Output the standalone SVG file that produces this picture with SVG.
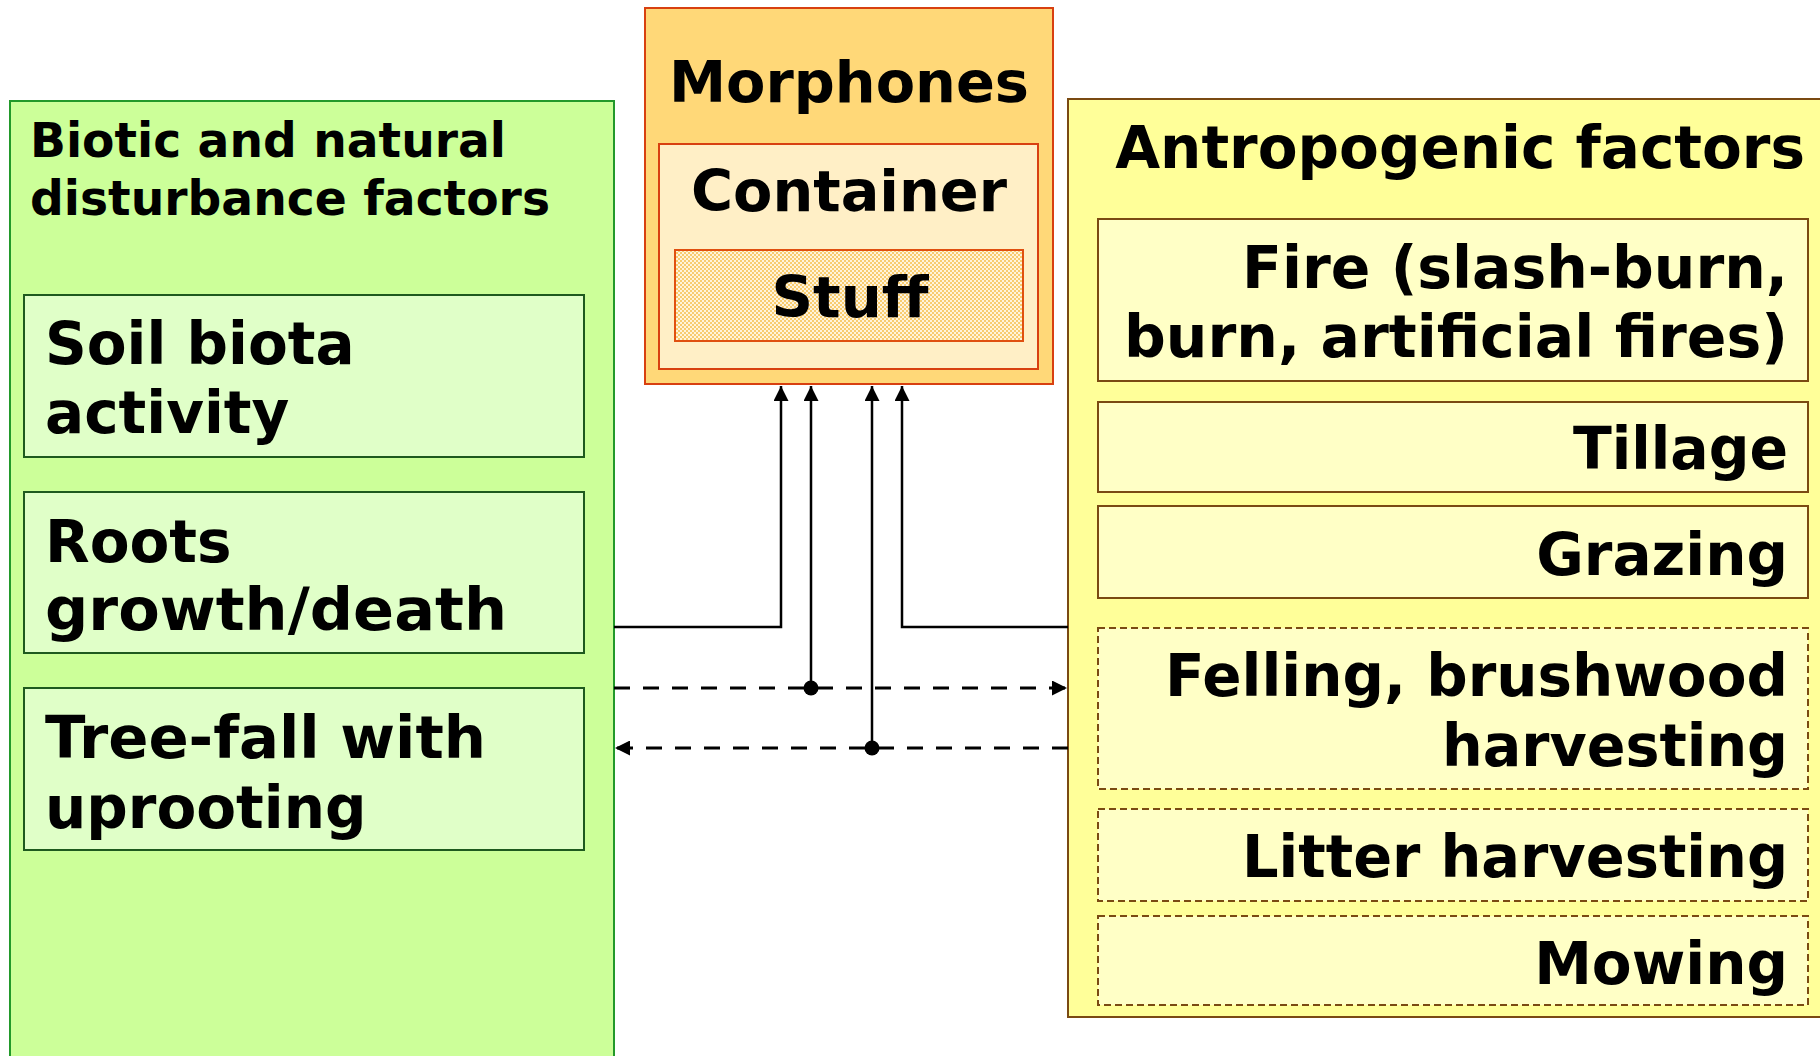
<svg xmlns="http://www.w3.org/2000/svg" width="1820" height="1056" viewBox="0 0 1820 1056">
<defs>
<pattern id="dots" width="4" height="4" patternUnits="userSpaceOnUse">
<rect width="4" height="4" fill="#FFF4DC"/>
<rect width="2" height="2" fill="#F8CC70"/>
<rect x="2" y="2" width="2" height="2" fill="#F8CC70"/>
</pattern>
<marker id="arr" viewBox="0 0 10 10" refX="10" refY="5" markerWidth="15" markerHeight="15" markerUnits="userSpaceOnUse" orient="auto">
<path d="M0,0 L10,5 L0,10 Z" fill="#000"/>
</marker>
</defs>
<style>
text{font-family:"DejaVu Sans","Verdana",sans-serif;font-weight:bold;fill:#000}
.t57{font-size:57px}
.t58{font-size:58px}
.t48{font-size:48px}
.gbox{fill:#E0FFC8;stroke:#1E5A1E;stroke-width:2}
.ybox{fill:#FFFFC6;stroke:#7A4A12;stroke-width:2}
.ydash{fill:#FFFFC6;stroke:#7A4A12;stroke-width:2;stroke-dasharray:7 4}
.ln{fill:none;stroke:#000;stroke-width:2.5}
.dl{fill:none;stroke:#000;stroke-width:3;stroke-dasharray:16 13}
</style>
<rect width="1820" height="1056" fill="#fff"/>

<g id="biotic">
<rect x="10" y="101" width="604" height="970" fill="#CCFF99" stroke="#22992A" stroke-width="2"/>
<text class="t48" x="30" y="157" textLength="476" lengthAdjust="spacingAndGlyphs">Biotic and natural</text>
<text class="t48" x="30" y="215" textLength="520" lengthAdjust="spacingAndGlyphs">disturbance factors</text>
</g>
<g id="soil-biota">
<rect class="gbox" x="24" y="295" width="560" height="162"/>
<text class="t58" x="45" y="364">Soil biota</text>
<text class="t58" x="45" y="433">activity</text>
</g>
<g id="roots">
<rect class="gbox" x="24" y="492" width="560" height="161"/>
<text class="t58" x="45" y="562">Roots</text>
<text class="t58" x="45" y="630" textLength="462" lengthAdjust="spacingAndGlyphs">growth/death</text>
</g>
<g id="tree-fall">
<rect class="gbox" x="24" y="688" width="560" height="162"/>
<text class="t58" x="45" y="758" textLength="441" lengthAdjust="spacingAndGlyphs">Tree-fall with</text>
<text class="t58" x="45" y="828">uprooting</text>
</g>

<g id="morphones">
<rect x="645" y="8" width="408" height="376" fill="#FFD878" stroke="#D84010" stroke-width="2"/>
<text class="t57" x="849" y="102" text-anchor="middle" textLength="360" lengthAdjust="spacingAndGlyphs">Morphones</text>
</g>
<g id="container">
<rect x="659" y="144" width="379" height="225" fill="#FFEFC6" stroke="#D84010" stroke-width="2"/>
<text class="t57" x="849" y="211" text-anchor="middle" textLength="316" lengthAdjust="spacingAndGlyphs">Container</text>
</g>
<g id="stuff">
<rect x="675" y="250" width="348" height="91" fill="url(#dots)" stroke="#E05010" stroke-width="2"/>
<text class="t57" x="850" y="317" text-anchor="middle" textLength="157" lengthAdjust="spacingAndGlyphs">Stuff</text>
</g>

<g id="antropogenic">
<rect x="1068" y="99" width="760" height="918" fill="#FFFF99" stroke="#7A4A12" stroke-width="2"/>
<text class="t58" x="1805" y="168" text-anchor="end">Antropogenic factors</text>
</g>
<g id="fire">
<rect class="ybox" x="1098" y="219" width="710" height="162"/>
<text class="t58" x="1788" y="288" text-anchor="end" textLength="546" lengthAdjust="spacingAndGlyphs">Fire (slash-burn,</text>
<text class="t58" x="1788" y="357" text-anchor="end" textLength="664" lengthAdjust="spacingAndGlyphs">burn, artificial fires)</text>
</g>
<g id="tillage">
<rect class="ybox" x="1098" y="402" width="710" height="90"/>
<text class="t58" x="1788" y="469" text-anchor="end" textLength="215" lengthAdjust="spacingAndGlyphs">Tillage</text>
</g>
<g id="grazing">
<rect class="ybox" x="1098" y="506" width="710" height="92"/>
<text class="t58" x="1788" y="575" text-anchor="end">Grazing</text>
</g>
<g id="felling">
<rect class="ydash" x="1098" y="628" width="710" height="161"/>
<text class="t58" x="1788" y="696" text-anchor="end" textLength="623" lengthAdjust="spacingAndGlyphs">Felling, brushwood</text>
<text class="t58" x="1788" y="766" text-anchor="end" textLength="346" lengthAdjust="spacingAndGlyphs">harvesting</text>
</g>
<g id="litter">
<rect class="ydash" x="1098" y="809" width="710" height="92"/>
<text class="t58" x="1788" y="877" text-anchor="end" textLength="546" lengthAdjust="spacingAndGlyphs">Litter harvesting</text>
</g>
<g id="mowing">
<rect class="ydash" x="1098" y="916" width="710" height="89"/>
<text class="t58" x="1788" y="984" text-anchor="end">Mowing</text>
</g>

<g id="connectors">
<path class="ln" d="M614,627 H781 V386" marker-end="url(#arr)"/>
<path class="ln" d="M1068,627 H902 V386" marker-end="url(#arr)"/>
<path class="dl" d="M614,688 H1067" marker-end="url(#arr)"/>
<path class="dl" d="M1068,748 H615" marker-end="url(#arr)"/>
<path class="ln" d="M811,688 V386" marker-end="url(#arr)"/>
<path class="ln" d="M872,748 V386" marker-end="url(#arr)"/>
<circle cx="811" cy="688" r="7.5"/>
<circle cx="872" cy="748" r="7.5"/>
</g>
</svg>
